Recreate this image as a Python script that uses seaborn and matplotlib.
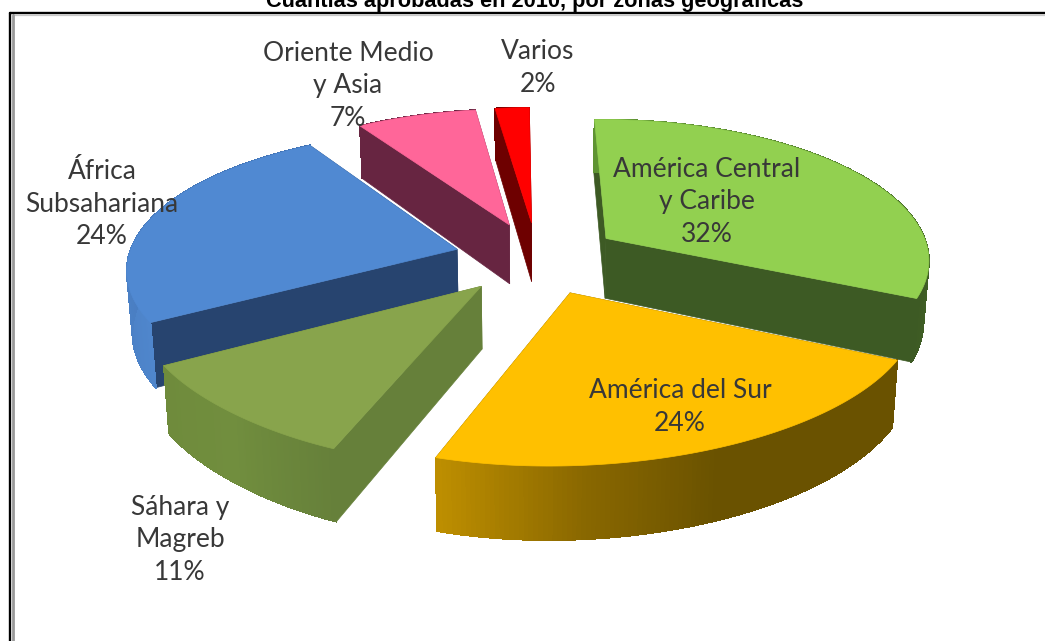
import numpy as np
import matplotlib
matplotlib.use("Agg")
import matplotlib.pyplot as plt
from matplotlib.collections import PolyCollection
import seaborn as sns

TITLE = "Cuantías aprobadas en 2010, por zonas geográficas"
CATEGORIES = ["América Central\ny Caribe", "América del Sur", "Sáhara y\nMagreb",
              "África\nSubsahariana", "Oriente Medio\ny Asia", "Varios"]
VALUES = [32, 24, 11, 24, 7, 2]

TOP_COLORS = ["#92d050", "#ffc000", "#88a44c", "#5089d2", "#ff6699", "#ff0000"]
FACE_COLORS = ["#3d5a24", "#6a5200", "#66803a", "#27446f", "#672541", "#6e0000"]
WALL_STOPS = [["#5f9433", "#3d5a24"], ["#6a5200", "#6a5200", "#6a5200", "#8a6800", "#bd8e00"],
              ["#66803a", "#718e3e", "#6f8b3c"], ["#4f86cc", "#3f6fb0"],
              ["#672541", "#672541"], ["#6e0000", "#6e0000"]]
RIM_BULGE = [0.008, -0.04, -0.01, 0.02, 0, 0]
LABEL_X = [707, 680, 180, 102, 348, 538]
LABEL_Y = [202, 407, 540, 204, 86, 68]
DRAW_ORDER = [5, 4, 3, 0, 2, 1]

# camara del pastel 3D de Excel, ajustada a ojo sobre la imagen
CENTER = (537.4, 257.9)
RADIUS = 323.5
TILT = 0.437
PERSP = 0.145
ROTATION = -0.6
EXPLODE = 0.258
DEPTH = 61
BOTTOM_SHRINK = 0.986


def project(off, ang, r, drop=0.0):
    """ang in degrees clockwise from 12 o'clock, r in radius fractions"""
    a = np.radians(ang)
    x, y = off[0] + r * np.sin(a), off[1] + r * np.cos(a)
    f = 1 / (1 + PERSP * y)
    shrink = 1 - drop * (1 - BOTTOM_SHRINK)
    return (CENTER[0] + RADIUS * x * f * shrink,
            CENTER[1] - RADIUS * y * TILT * f + drop * DEPTH * f)


sns.set_theme(style="white")
plt.rcParams["font.family"] = ["Lato", "DejaVu Sans"]

fig = plt.figure(figsize=(10.45, 6.41), dpi=100)
ax = fig.add_axes([0, 0, 1, 1])
ax.set_xlim(0, 1045)
ax.set_ylim(641, 0)
ax.axis("off")

edges = np.concatenate([[0], np.cumsum(VALUES)]) * 360 / sum(VALUES) + ROTATION

for layer, i in enumerate(DRAW_ORDER):
    start, end = edges[i], edges[i + 1]
    mid = np.radians((start + end) / 2)
    off = (EXPLODE * np.sin(mid), EXPLODE * np.cos(mid))
    angles = np.linspace(start, end, 120)
    rims = 1 + RIM_BULGE[i] * np.sin(np.linspace(0, np.pi, len(angles)))
    for ang in (start, end):
        quad = [project(off, ang, 0), project(off, ang, 1),
                project(off, ang, 1, 1), project(off, ang, 0, 1)]
        ax.fill(*zip(*quad), color=FACE_COLORS[i], lw=0.5, zorder=layer * 3 + 1)
    wall_cols = sns.blend_palette(WALL_STOPS[i], len(angles) - 1)
    quads = [[project(off, angles[k], rims[k]), project(off, angles[k + 1], rims[k + 1]),
              project(off, angles[k + 1], rims[k + 1], 1), project(off, angles[k], rims[k], 1)]
             for k in range(len(angles) - 1)]
    ax.add_collection(PolyCollection(quads, facecolors=wall_cols, edgecolors=wall_cols,
                                     linewidths=0.6, antialiaseds=False, zorder=layer * 3 + 2))
    top = [project(off, start, 0)] + [project(off, a, r) for a, r in zip(angles, rims)]
    ax.fill(*zip(*top), color=TOP_COLORS[i], lw=0.5, zorder=layer * 3 + 3)

for name, val, x, y in zip(CATEGORIES, VALUES, LABEL_X, LABEL_Y):
    ax.text(x, y, f"{name}\n{val}%", ha="center", va="center", fontsize=19,
            color="#383838", linespacing=1.37, zorder=50)

# marco y titulo cortado por arriba
ax.plot([10, 1045], [13, 13], color="black", lw=1.7, zorder=60)
ax.plot([10, 10], [13, 641], color="black", lw=1.7, zorder=60)
ax.plot([13, 1045], [15, 15], color="#c8c8c8", lw=0.9, zorder=59)
ax.plot([13, 13], [15, 641], color="#9a9a9a", lw=2, zorder=59)
ax.text(535, 6.5, TITLE, ha="center", va="baseline", fontsize=15.7, fontweight="bold",
        family=["Liberation Sans", "DejaVu Sans"], color="black")

fig.savefig("out.png", dpi=100)
